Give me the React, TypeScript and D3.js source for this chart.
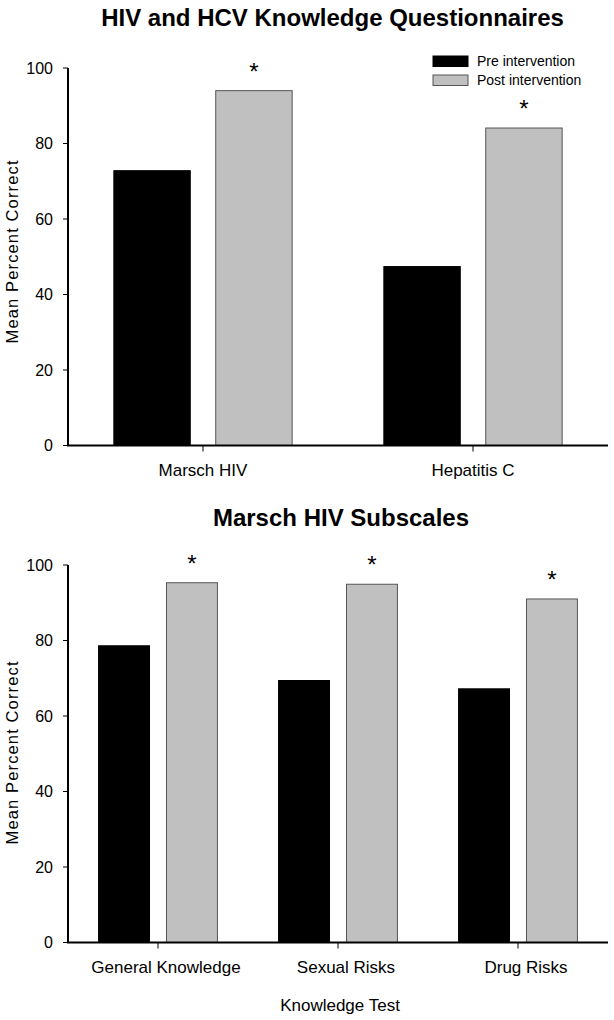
import React from "react";
import * as d3 from "d3";

const seriesNames = ["Pre intervention", "Post intervention"];
const topCategories = ["Marsch HIV", "Hepatitis C"];
const topPre = [72.8, 47.4];
const topPost = [94.0, 84.1];
const bottomCategories = ["General Knowledge", "Sexual Risks", "Drug Risks"];
const bottomPre = [78.6, 69.4, 67.2];
const bottomPost = [95.3, 94.9, 91.0];
const yTickValues = [0, 20, 40, 60, 80, 100];

const FONT = "'Liberation Sans', Arial, Helvetica, sans-serif";
const COLORS = ["#000000", "#c0c0c0"];

type PanelProps = {
  title: string;
  titleX: number;
  titleY: number;
  categories: string[];
  pre: number[];
  post: number[];
  yTopPx: number;
  yZeroPx: number;
  legend?: boolean;
  xTitle?: string;
  labelDx: number;
  yLabelCenter: number;
};

function Panel(p: PanelProps) {
  const left = 68;
  const right = 608;
  const x0 = d3.scaleBand<string>().domain(p.categories).range([left, right]).padding(0);
  const x1 = d3
    .scaleBand<string>()
    .domain(seriesNames)
    .range([0, x0.bandwidth()])
    .paddingInner(0.25)
    .paddingOuter(0.45);
  const y = d3.scaleLinear().domain([0, 100]).range([p.yZeroPx, p.yTopPx]);
  const vals = [p.pre, p.post];

  return (
    <g>
      <text
        x={p.titleX}
        y={p.titleY}
        textAnchor="middle"
        fontFamily={FONT}
        fontWeight="bold"
        fontSize={24}
        fill="#000"
      >
        {p.title}
      </text>
      {p.categories.map((c, i) =>
        seriesNames.map((s, j) => {
          const v = vals[j][i];
          const bx = (x0(c) as number) + (x1(s) as number);
          return (
            <rect
              key={c + s}
              x={bx}
              y={y(v)}
              width={x1.bandwidth()}
              height={y(0) - y(v)}
              fill={COLORS[j]}
              stroke={j === 0 ? "#000" : "#555"}
              strokeWidth={1}
            />
          );
        })
      )}
      {p.categories.map((c, i) => {
        const bx = (x0(c) as number) + (x1(seriesNames[1]) as number) + x1.bandwidth() / 2;
        return (
          <text
            key={"star" + c}
            x={bx}
            y={y(p.post[i]) - 11}
            textAnchor="middle"
            fontFamily={FONT}
            fontSize={24}
            fill="#000"
          >
            *
          </text>
        );
      })}
      {/* y axis */}
      <line x1={left} x2={left} y1={y(100)} y2={y(0)} stroke="#000" strokeWidth={2} />
      {yTickValues.map((t) => (
        <g key={"yt" + t}>
          <line x1={left - 5} x2={left} y1={y(t)} y2={y(t)} stroke="#000" strokeWidth={1} />
          <text
            x={53}
            y={y(t) + 5.5}
            textAnchor="end"
            fontFamily={FONT}
            fontSize={16}
            fill="#000"
          >
            {t}
          </text>
        </g>
      ))}
      <text
        transform={`translate(18,${p.yLabelCenter}) rotate(-90)`}
        textAnchor="middle"
        fontFamily={FONT}
        fontSize={16.5}
        fill="#000"
        textLength={183}
        lengthAdjust="spacing"
      >
        Mean Percent Correct
      </text>
      {/* x axis */}
      <line x1={left - 1} x2={right} y1={y(0)} y2={y(0)} stroke="#000" strokeWidth={2} />
      {p.categories.map((c) => {
        const cx = (x0(c) as number) + x0.bandwidth() / 2;
        return (
          <g key={"xt" + c}>
            <line x1={cx} x2={cx} y1={y(0)} y2={y(0) + 6} stroke="#000" strokeWidth={1} />
            <text
              x={cx + p.labelDx}
              y={y(0) + 30.5}
              textAnchor="middle"
              fontFamily={FONT}
              fontSize={17}
              fill="#000"
            >
              {c}
            </text>
          </g>
        );
      })}
      {p.xTitle ? (
        <text
          x={(left + right) / 2 + 2}
          y={y(0) + 68}
          textAnchor="middle"
          fontFamily={FONT}
          fontSize={17}
          fill="#000"
        >
          {p.xTitle}
        </text>
      ) : null}
      {p.legend ? (
        <g>
          {seriesNames.map((s, j) => (
            <g key={"lg" + s}>
              <rect
                x={433}
                y={56 + j * 19}
                width={35}
                height={10.5}
                fill={COLORS[j]}
                stroke={j === 0 ? "#000" : "#555"}
                strokeWidth={1}
              />
              <text
                x={477}
                y={66 + j * 19}
                fontFamily={FONT}
                fontSize={14}
                fill="#000"
              >
                {s}
              </text>
            </g>
          ))}
        </g>
      ) : null}
    </g>
  );
}

export default function App() {
  return (
    <svg
      width={614}
      height={1020}
      style={{ position: "absolute", left: 0, top: 0, background: "#fff" }}
    >
      <rect x={0} y={0} width={614} height={1020} fill="#fff" />
      <Panel
        title="HIV and HCV Knowledge Questionnaires"
        titleX={332.5}
        titleY={26}
        categories={topCategories}
        pre={topPre}
        post={topPost}
        yTopPx={68}
        yZeroPx={445.5}
        legend
        labelDx={0}
        yLabelCenter={252}
      />
      <Panel
        title="Marsch HIV Subscales"
        titleX={341}
        titleY={526}
        categories={bottomCategories}
        pre={bottomPre}
        post={bottomPost}
        yTopPx={565}
        yZeroPx={942.5}
        xTitle="Knowledge Test"
        labelDx={8}
        yLabelCenter={753}
      />
    </svg>
  );
}
